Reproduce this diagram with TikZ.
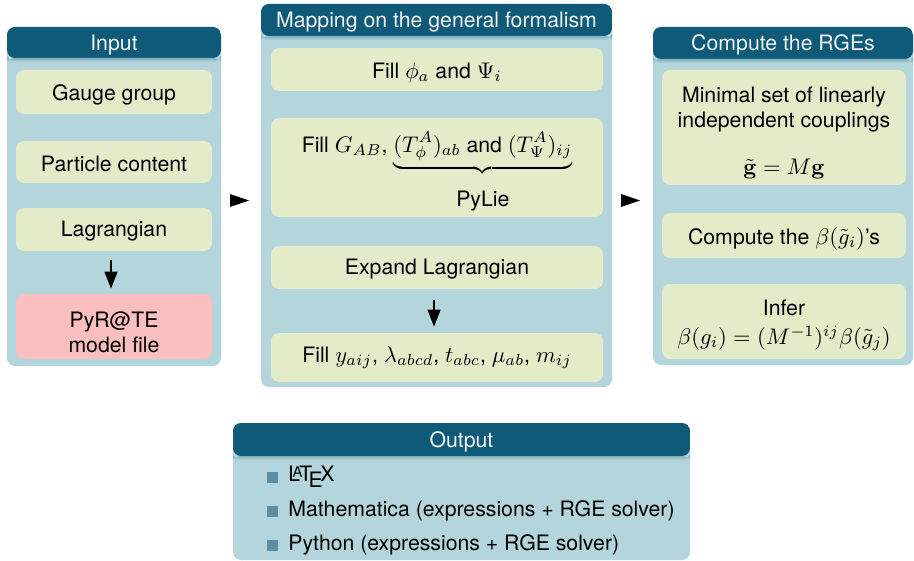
\RequirePackage{fix-cm}
\documentclass[tikz,border=0pt]{standalone}
\usepackage[no-math]{fontspec}
\setmainfont{TeX Gyre Heros}[Scale=0.94]
\usetikzlibrary{arrows.meta,calc}
\definecolor{head}{HTML}{0F5A78}
\definecolor{body}{HTML}{B3D5DB}
\definecolor{inner}{HTML}{E3EBC8}
\definecolor{pink}{HTML}{F8BFBE}
\definecolor{bulc}{HTML}{5A8DA6}
\definecolor{ttl}{HTML}{F2F2F2}
\begin{document}
\begin{tikzpicture}[x=0.5pt,y=-0.5pt,
  every node/.style={font=\fontsize{11.3}{12.5}\selectfont},
  panel/.style={fill=body, rounded corners=4pt, inner sep=0pt},
  hdr/.style={path picture={
    \fill[head] (path picture bounding box.north west) rectangle ($(path picture bounding box.north east)+(0pt,-#1)$);
    \shade[top color=body!70!head, bottom color=body] ($(path picture bounding box.north west)+(0pt,-#1)$) rectangle ($(path picture bounding box.north east)+(0pt,-#1-2pt)$);}},
  ttlnode/.style={text=ttl, inner sep=0pt},
  ibox/.style={fill=inner, rounded corners=4pt, inner sep=0pt},
  pbox/.style={fill=pink, rounded corners=4pt, inner sep=0pt},
  txt/.style={inner sep=0pt, align=center},
  arr/.style={-{Triangle[width=6.5pt,length=8.5pt]}, line width=0.7pt},
  bul/.style={fill=bulc, minimum size=5.5pt, inner sep=0pt},
  itm/.style={anchor=west, inner sep=0pt}]
\useasboundingbox (0,0) rectangle (914,561);
% ---------------- Input panel
\node[panel, minimum width=107pt, minimum height=169.5pt, hdr=15.5pt] (inp) at (114,196.5) {};
\node[ttlnode] (inpt) at (114,45) {Input};
\node[ibox, minimum width=98pt, minimum height=22pt] (gauge) at (114,92) {};
\node[txt] (gauget) at (114,95) {Gauge group};
\node[ibox, minimum width=98pt, minimum height=21pt] (part) at (114,162) {};
\node[txt] (partt) at (114,164) {Particle content};
\node[ibox, minimum width=98pt, minimum height=21.5pt] (lag) at (114,229.5) {};
\node[txt] (lagt) at (114,231.5) {Lagrangian};
\node[pbox, minimum width=98pt, minimum height=32.5pt] (pyr) at (114,326.5) {};
\node[txt] (pyrt) at (114,332.5) {PyR@TE\\model file};
\draw[arr, shorten <=4.5pt, shorten >=2.5pt] ([xshift=-1.5pt]lag.south) -- ([xshift=-1.5pt]pyr.north);
% ---------------- Mapping panel
\node[panel, minimum width=175.5pt, minimum height=191.5pt, hdr=16pt] (map) at (436.5,195.5) {};
\node[ttlnode] (mapt) at (436.5,22) {Mapping on the general formalism};
\node[ibox, minimum width=166pt, minimum height=21.5pt] (fphi) at (437,69.5) {};
\node[txt] (fphit) at (437,72.5) {Fill $\phi_a$ and $\Psi_i$};
\node[ibox, minimum width=166pt, minimum height=49.5pt] (fg) at (437,167.5) {};
\node[txt] (fgt) at (437,172.5)
  {Fill $G_{AB}$, $\underbrace{(T^A_\phi)_{ab}\mbox{ and }(T^A_\Psi)_{ij}}_{\mbox{\rule{0pt}{14pt}PyLie}}$};
\node[ibox, minimum width=166pt, minimum height=21.5pt] (expl) at (437,267.5) {};
\node[txt] (explt) at (437,269.5) {Expand Lagrangian};
\node[ibox, minimum width=166pt, minimum height=24.5pt] (fy) at (437,357.5) {};
\node[txt] (fyt) at (437,357.5) {Fill $y_{aij}$, $\lambda_{abcd}$, $t_{abc}$, $\mu_{ab}$, $m_{ij}$};
\draw[arr, shorten <=5.5pt, shorten >=3pt] ([xshift=-1.5pt]expl.south) -- ([xshift=-1.5pt]fy.north);
% ---------------- RGE panel
\node[panel, minimum width=130pt, minimum height=169pt, hdr=16pt] (rge) at (783,196) {};
\node[ttlnode] (rget) at (783,45) {Compute the RGEs};
\node[ibox, minimum width=122pt, minimum height=57.5pt] (minset) at (784,127.5) {};
\node[txt] (minsett) at (784,133)
  {Minimal set of linearly\\independent couplings\\[11pt]$\tilde{\mathbf{g}} = M\mathbf{g}$};
\node[ibox, minimum width=122pt, minimum height=22.5pt] (cbeta) at (784,235.5) {};
\node[txt] (cbetat) at (784,238.5) {Compute the $\beta(\tilde g_i)$'s};
\node[ibox, minimum width=122pt, minimum height=37.5pt] (infer) at (784,321.5) {};
\node[txt] (infert) at (784,325.5) {Infer\\[2pt]$\beta(g_i) = (M^{-1})^{ij}\beta(\tilde g_j)$};
% ---------------- big triangles between panels
\fill (230,194) -- (249,200.5) -- (230,207) -- cycle;
\fill (621,194) -- (640,200.5) -- (621,207) -- cycle;
% ---------------- Output panel
\node[panel, minimum width=228.5pt, minimum height=68.5pt, hdr=16.5pt] (outp) at (461.5,491.5) {};
\node[ttlnode] (outt) at (461.5,442) {Output};
\node[bul] (b1) at (272,477.5) {};
\node[itm] (t1) at (288,477) {\LaTeX};
\node[bul] (b2) at (272,511.5) {};
\node[itm] (t2) at (288,511) {Mathematica (expressions + RGE solver)};
\node[bul] (b3) at (272,545.5) {};
\node[itm] (t3) at (288,545) {Python (expressions + RGE solver)};
\end{tikzpicture}
\end{document}
